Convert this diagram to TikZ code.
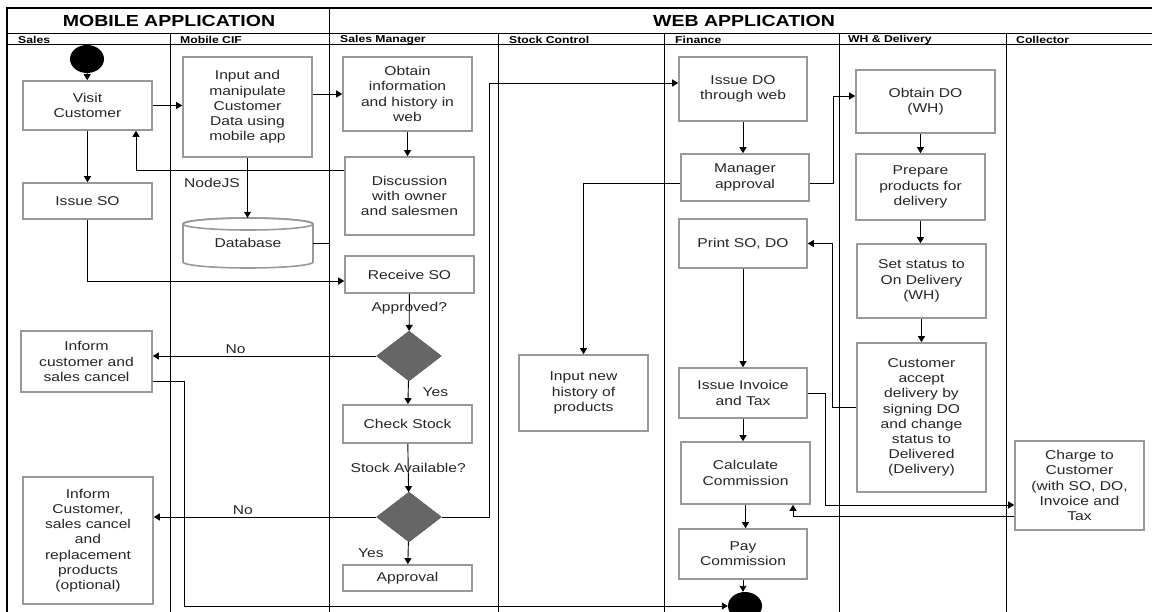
\documentclass[tikz,border=0pt]{standalone}
\usepackage{fontspec}
\setmainfont{Liberation Sans}[FakeStretch=1.22]
\usetikzlibrary{arrows.meta,shapes.geometric,calc}

\begin{document}
\begin{tikzpicture}[x=1pt, y=-1pt,
    act/.style={draw=black!40, line width=1.6pt, fill=white, align=center, text=black!85,
      font=\fontsize{12.8}{15.2}\selectfont, minimum width=129, inner sep=1pt},
    dec/.style={diamond, draw=black!65, fill=black!60, minimum width=65, minimum height=50, inner sep=0pt},
    dot/.style={ellipse, fill=black, minimum width=34, minimum height=28, inner sep=0pt},
    flow/.style={line width=0.9pt, -{Triangle[length=6pt,width=7pt]}},
    lab/.style={font=\fontsize{12.8}{15.2}\selectfont, text=black!85, inner sep=2pt},
    lane/.style={line width=1pt},
    lanetitle/.style={font=\bfseries\fontsize{10}{11}\selectfont, anchor=west, inner sep=0pt},
    apptitle/.style={font=\bfseries\fontsize{16}{18}\selectfont, inner sep=0pt}]
\useasboundingbox (0,0) rectangle (1152,612);
% 枠とレーン
\draw[line width=1.6pt] (1152,8) -- (7,8) -- (7,612);
\draw[lane] (7,34) -- (1152,34);
\draw[lane] (7,45) -- (1152,45);
\draw[lane] (329,8) -- (329,612);
\foreach \x in {170,498,664,839,1006}
  \draw[lane] (\x,34) -- (\x,612);
\coordinate (mwsep) at (329,45);
\node[apptitle] (mobapp) at (169,21) {MOBILE APPLICATION};
\node[apptitle] (webapp) at (744,21) {WEB APPLICATION};
\node[lanetitle] (lsales) at (18,40) {Sales};
\node[lanetitle] (lcif) at (180,40) {Mobile CIF};
\node[lanetitle] (lmgr) at (340,40) {Sales Manager};
\node[lanetitle] (lstock) at (509,40) {Stock Control};
\node[lanetitle] (lfin) at (675,40) {Finance};
\node[lanetitle] (lwh) at (848,40) {WH \& Delivery};
\node[lanetitle] (lcol) at (1016,40) {Collector};

% Sales
\node[dot] (start) at (87,59) {};
\node[act, minimum height=49] (visit) at (87.5,105.5) {Visit\\Customer};
\node[act, minimum height=36] (issueso) at (87.5,201) {Issue SO};
\node[act, minimum width=131, minimum height=61] (inform1) at (86.5,361.5) {Inform\\customer and\\sales cancel};
\node[act, minimum width=130, minimum height=127] (inform2) at (88,540.5) {Inform\\Customer,\\sales cancel\\and\\replacement\\products\\(optional)};

% Mobile CIF
\node[act, minimum height=100] (input) at (247.5,107) {Input and\\manipulate\\Customer\\Data using\\mobile app};
\node[lab] (nodejs) at (212,183) {NodeJS};
\draw[draw=black!40, line width=1.6pt, fill=white] (183,224) -- (183,262)
  arc[start angle=180, end angle=0, x radius=65, y radius=6] -- (313,224)
  arc[start angle=0, end angle=-180, x radius=65, y radius=6] -- cycle;
\draw[draw=black!40, line width=1.6pt] (248,224) ellipse [x radius=65, y radius=6];
\node[lab, minimum width=130, minimum height=50, inner sep=0pt] (db) at (248,243) {Database};

% Sales Manager
\node[act, minimum height=74] (obtain) at (407.5,94) {Obtain\\information\\and history in\\web};
\node[act, minimum height=78] (discuss) at (409.5,196) {Discussion\\with owner\\and salesmen};
\node[act, minimum height=37] (receive) at (409.5,274.5) {Receive SO};
\node[dec] (dec1) at (409,356) {};
\node[act, minimum height=38] (check) at (407.5,424) {Check Stock};
\node[dec] (dec2) at (409,517) {};
\node[act, minimum height=26] (approval) at (407.5,578) {Approval};

% Stock Control
\node[act, minimum height=76] (history) at (583.5,393) {Input new\\history of\\products};

% Finance
\node[act, minimum width=128, minimum height=64] (issuedo) at (743,89) {Issue DO\\through web};
\node[act, minimum width=128, minimum height=47] (mgr) at (745,177.5) {Manager\\approval};
\node[act, minimum width=128, minimum height=49] (print) at (743,243.5) {Print SO, DO};
\node[act, minimum width=128, minimum height=50] (invoice) at (743,393) {Issue Invoice\\and Tax};
\node[act, minimum height=62] (calc) at (745.5,473) {Calculate\\Commission};
\node[act, minimum width=128, minimum height=50] (pay) at (743,554) {Pay\\Commission};
\node[dot] (endpt) at (745,606) {};

% WH & Delivery
\node[act, minimum width=139, minimum height=63] (obtaindo) at (925.5,101.5) {Obtain DO\\(WH)};
\node[act, minimum height=66] (prepare) at (920.5,187) {Prepare\\products for\\delivery};
\node[act, minimum height=74] (setstatus) at (921.5,281) {Set status to\\On Delivery\\(WH)};
\node[act, minimum height=149] (accept) at (921.5,417.5) {Customer\\accept\\delivery by\\signing DO\\and change\\status to\\Delivered\\(Delivery)};

% Collector
\node[act, minimum height=89] (charge) at (1079.5,485.5) {Charge to\\Customer\\(with SO, DO,\\Invoice and\\Tax};

% 矢印
\draw[flow] (start) -- (visit);
\draw[flow] (visit.east) -- (visit.east -| input.west);
\draw[flow] (visit) -- (issueso);
\draw[flow] (obtain.west -| input.east) -- (obtain.west);
\draw[flow] (input) -- (input |- db.north);
\draw[line width=0.9pt] (db.east) -- (db.east -| mwsep);
\draw[flow] ([yshift=26]discuss.west) -| ([xshift=48.5]visit.south);
\draw[flow] (obtain) -- (obtain |- discuss.north);
\draw[flow] (issueso) |- ([yshift=-6.5]receive.west);
\draw[flow] (receive) -- node[lab, pos=0.4] (qapp) {Approved?} (dec1);
\draw[flow] (dec1) -- node[lab, pos=0.63, above] (no1) {No} (dec1 -| inform1.east);
\draw[flow] (dec1) -- node[lab, right, xshift=12] (yes1) {Yes} (check);
\draw[flow] (check) -- node[lab] (qstock) {Stock Available?} (dec2);
\draw[flow] (dec2) -- node[lab, pos=0.6, above] (no2) {No} (dec2 -| inform2.east);
\draw[flow] (dec2) -- node[lab, left, xshift=-22] (yes2) {Yes} (approval);
\draw[flow] (dec2.east) -- ++(47.5,0) |- ([yshift=6]issuedo.west);
\draw[flow] ([yshift=-20]inform1.east) -- ++(32,0) |- (endpt);
\draw[flow] (issuedo) -- (issuedo |- mgr.north);
\draw[flow] ([yshift=-5.5]mgr.east) -- ++(24,0) |- ([yshift=5.5]obtaindo.west);
\draw[flow] ([yshift=-5.5]mgr.west) -| (history);
\draw[flow] (print) -- (invoice);
\draw[flow] (invoice) -- (invoice |- calc.north);
\draw[flow] (calc) -- (calc |- pay.north);
\draw[flow] (pay) -- (pay |- endpt.north);
\draw[flow] (prepare.north |- obtaindo.south) -- (prepare.north);
\draw[flow] (prepare) -- (prepare |- setstatus.north);
\draw[flow] (setstatus) -- (accept);
\draw[flow] ([yshift=10.5]accept.west) -- ++(-24,0) |- (print.east);
\draw[flow] (invoice.east) -- ++(18,0) |- ([yshift=-19.5]charge.west);
\draw[flow] ([yshift=-31]charge.west) -| ([xshift=47.5]calc.south);
\end{tikzpicture}
\end{document}
